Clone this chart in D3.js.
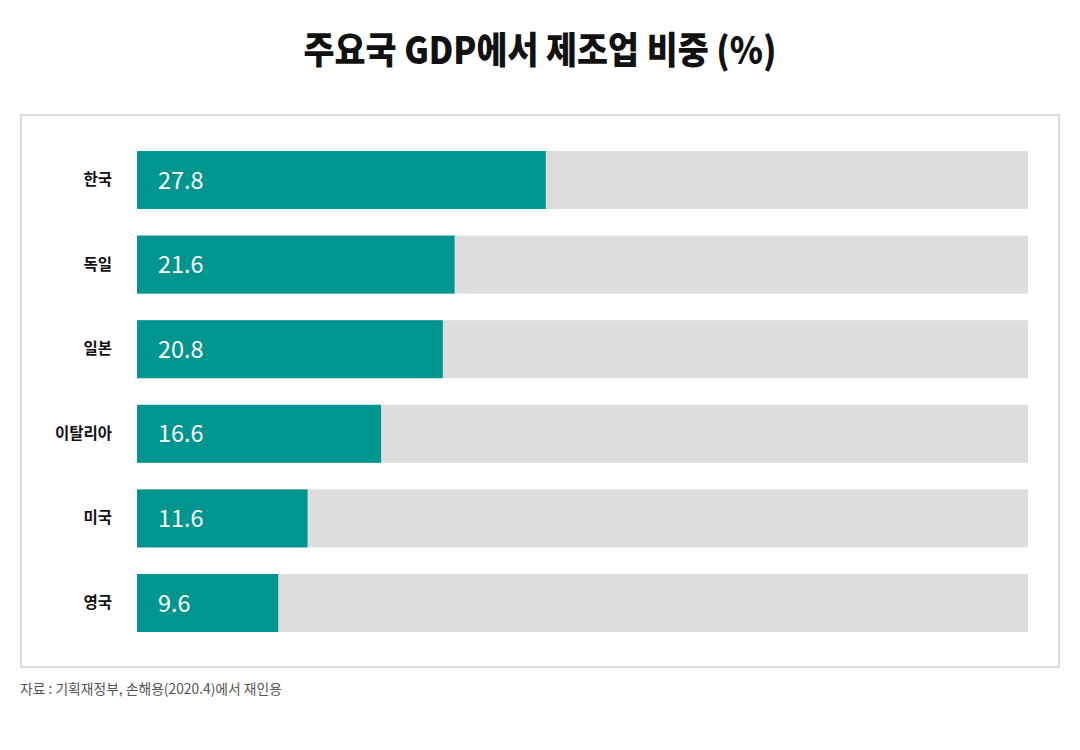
<!DOCTYPE html>
<html><head><meta charset="utf-8">
<script src="https://cdn.jsdelivr.net/npm/d3@7"></script>
<style>body{margin:0;background:#fff;}svg{display:block;}</style>
</head><body>
<svg id="c" width="1080" height="750"></svg>
<script>
const categories = ["한국","독일","일본","이탈리아","미국","영국"];
const values = [27.8, 21.6, 20.8, 16.6, 11.6, 9.6];
const trackMax = 60.6;

const svg = d3.select("#c");
const font = "'Noto Sans CJK KR', 'Noto Sans', sans-serif";

svg.append("text").attr("x",540).attr("y",64).attr("text-anchor","middle")
  .attr("font-family",font).attr("font-weight",900).attr("font-size",37)
  .attr("fill","#111").attr("transform","translate(540,0) scale(0.91,1) translate(-540,0)")
  .text("주요국 GDP에서 제조업 비중 (%)");

svg.append("rect").attr("x",21).attr("y",115).attr("width",1038).attr("height",552)
  .attr("fill","none").attr("stroke","#dcdcdc").attr("stroke-width",2);

const x = d3.scaleLinear().domain([0,trackMax]).range([137,1028]);
const bh = 58, step = 84.6;
const yp = c => 151 + categories.indexOf(c)*step;

const g = svg.append("g");
g.selectAll("rect.track").data(categories).join("rect")
  .attr("x",x(0)).attr("y",d=>yp(d)).attr("width",x(trackMax)-x(0)).attr("height",bh).attr("fill","#dddddd");
g.selectAll("rect.bar").data(values).join("rect")
  .attr("x",x(0)).attr("y",(d,i)=>yp(categories[i])).attr("width",d=>x(d)-x(0)).attr("height",bh).attr("fill","#00968f");
g.selectAll("text.val").data(values).join("text")
  .attr("x",158).attr("y",(d,i)=>yp(categories[i])+bh/2+8.5).attr("font-family",font)
  .attr("font-weight",400).attr("font-size",23.5).attr("fill","#fff").text(d=>d.toFixed(1));
g.selectAll("text.cat").data(categories).join("text")
  .attr("x",112).attr("y",d=>yp(d)+bh/2+5).attr("text-anchor","end").attr("font-family",font)
  .attr("font-weight",700).attr("font-size",15.5).attr("fill","#111").text(d=>d);

svg.append("text").attr("x",20).attr("y",694).attr("font-family",font).attr("font-size",13.8)
  .attr("fill","#555").text("자료 : 기획재정부, 손해용(2020.4)에서 재인용");
</script>
</body></html>
